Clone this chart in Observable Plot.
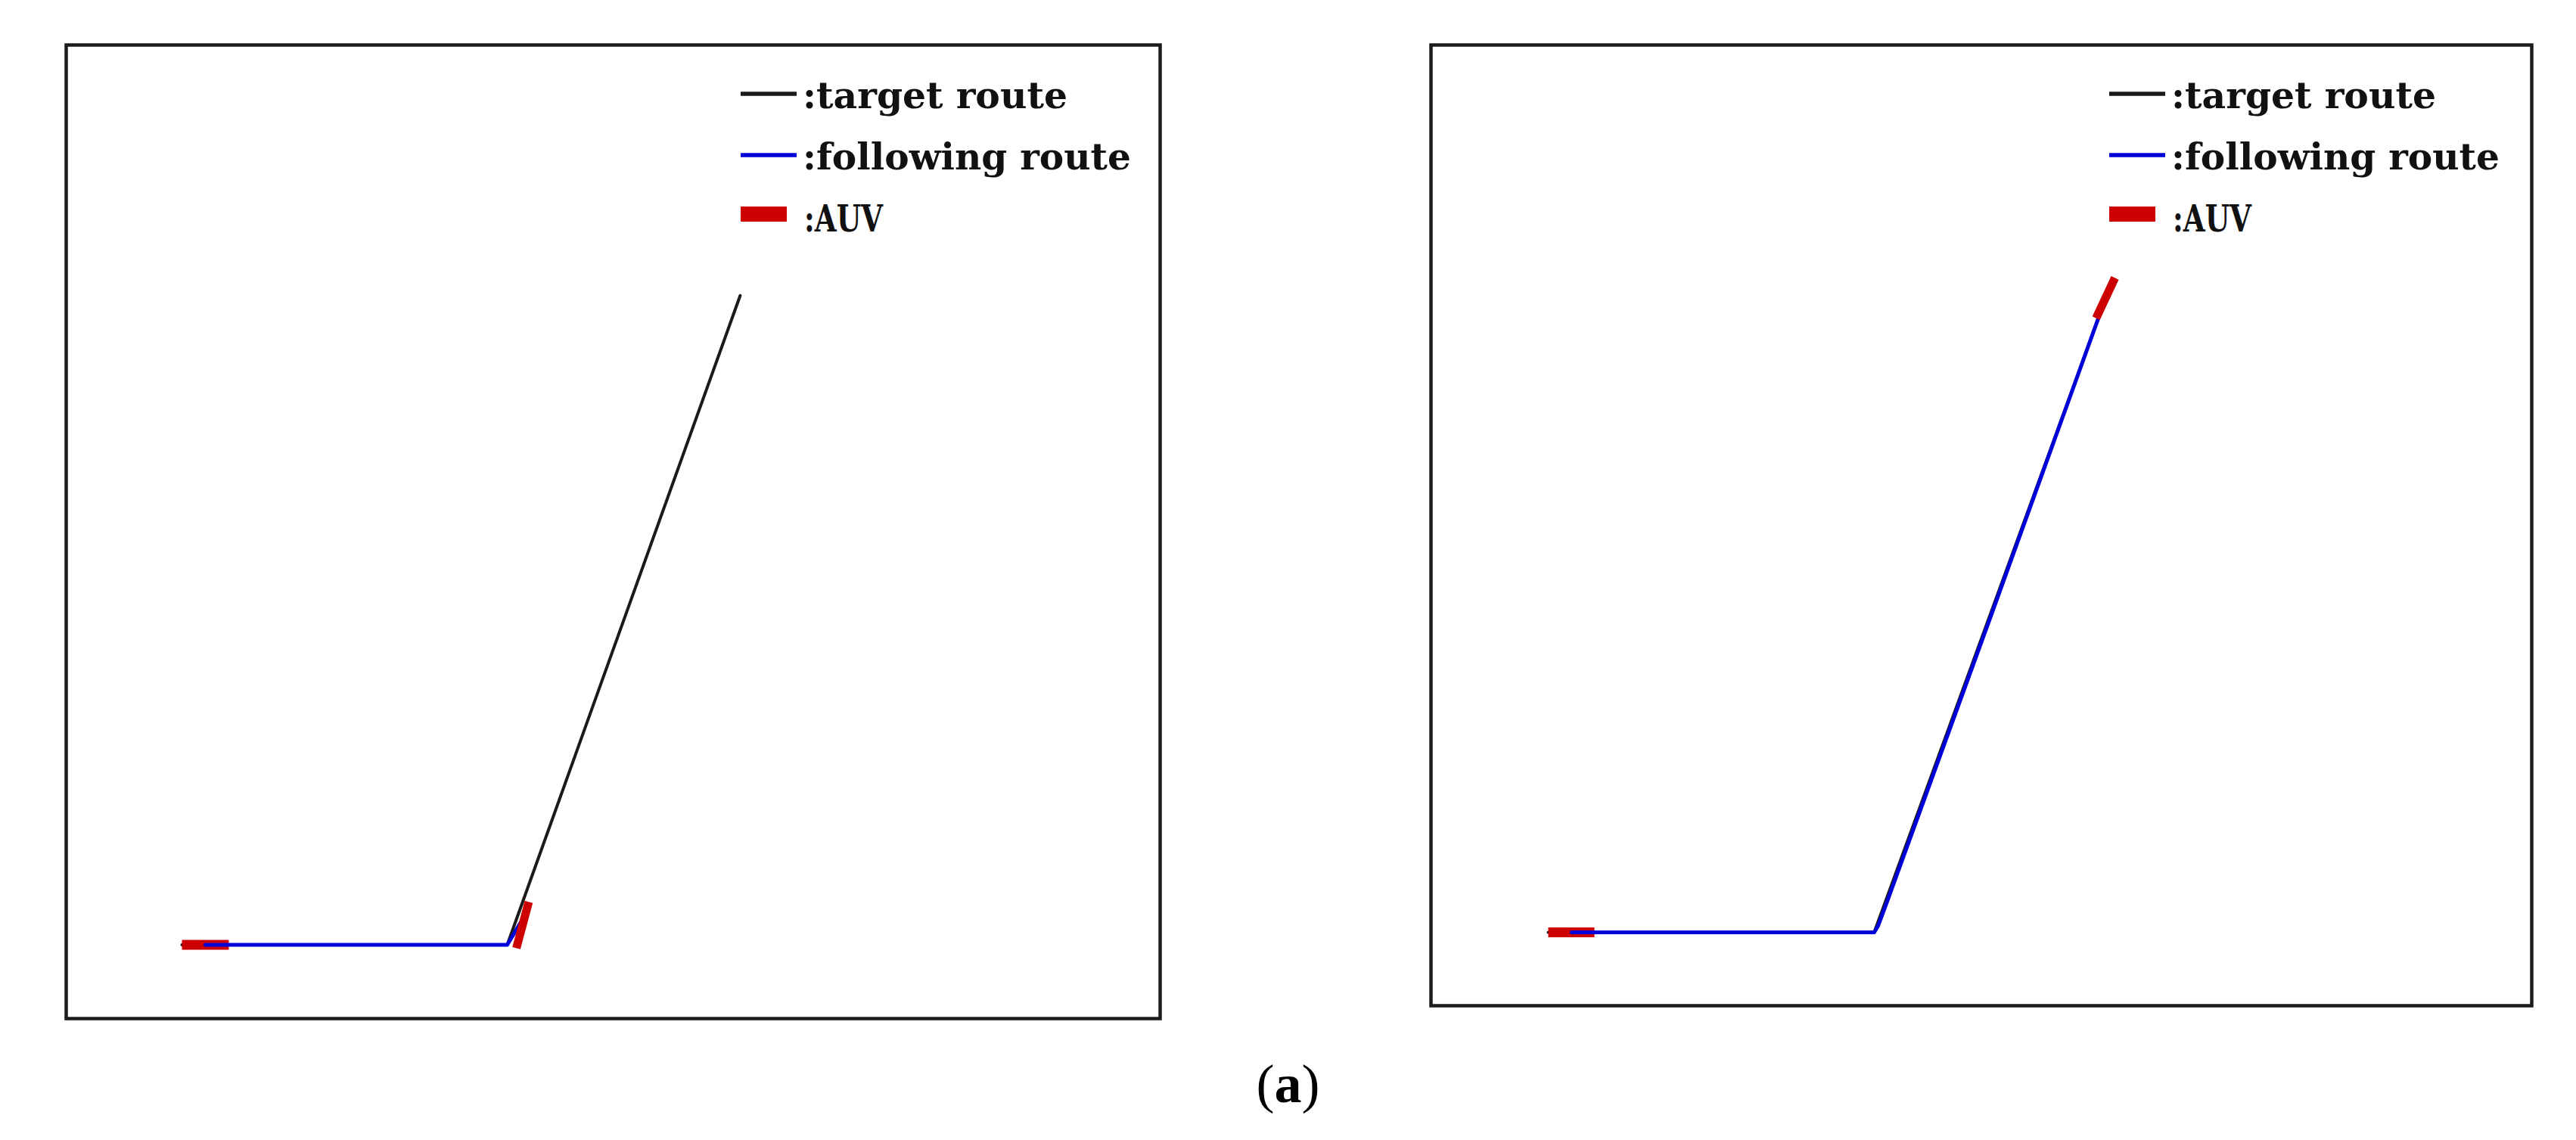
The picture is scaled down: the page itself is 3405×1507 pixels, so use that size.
<!DOCTYPE html>
<html>
<head>
<meta charset="utf-8">
<script src="https://cdn.jsdelivr.net/npm/d3@7"></script>
<script src="https://cdn.jsdelivr.net/npm/@observablehq/plot@0.6"></script>
<style>
  html, body { margin: 0; padding: 0; background: #fff; }
  body { width: 3405px; height: 1507px; position: relative; overflow: hidden; }
  .panel { position: absolute; }
  #overlay { position: absolute; left: 0; top: 0; pointer-events: none; }
  #caption { position: absolute; left: 0; width: 3405px; top: 1392px; text-align: center;
             font-family: "Liberation Serif", "Times New Roman", serif; font-size: 72px; color: #000; }
</style>
</head>
<body>
<div id="left" class="panel"></div>
<div id="right" class="panel"></div>
<svg id="overlay" width="3405" height="1507"></svg>
<div id="caption">(<b>a</b>)</div>
<script>
// ---------- data (route units) ----------
// panel (left): AUV has just reached the turning point
const targetLeftX = [0, 50.0, 85.8];
const targetLeftY = [0, 0, 99.8];
const followLeftX = [3.6, 50.0, 52.1];
const followLeftY = [0, 0, 3.5];
const auvLeftX1 = [0, 51.4];
const auvLeftY1 = [0, -0.5];
const auvLeftX2 = [7.2, 53.3];
const auvLeftY2 = [0, 6.6];

// panel (right): AUV has reached the end of the route
const targetRightX = [0, 50.1, 86.6];
const targetRightY = [0, 0, 100.0];
const followRightX = [3.6, 50.1, 50.7, 52.0, 68.35, 85.6];
const followRightY = [0, 0, 1.0, 4.5, 49.5, 97.3];
const auvRightX1 = [0, 84.2];
const auvRightY1 = [0, 94.4];
const auvRightX2 = [7.1, 87.1];
const auvRightY2 = [0, 100.6];

// legend
const legendLabels = [":target route", ":following route", ":AUV"];
const legendKinds = ["line", "line", "rect"];
const legendColors = ["#1a1a1a", "#0000d8", "#cc0000"];

// ---------- helpers ----------
const pts = (xs, ys) => xs.map((x, i) => ({x, y: ys[i]}));
const segs = (x1, y1, x2, y2) => x1.map((v, i) => ({x1: v, y1: y1[i], x2: x2[i], y2: y2[i]}));

function panel(cfg) {
  const m = 6;
  const target = pts(cfg.tx, cfg.ty);
  const follow = pts(cfg.fx, cfg.fy);
  const auv = segs(cfg.ax1, cfg.ay1, cfg.ax2, cfg.ay2);
  const chart = Plot.plot({
    width: cfg.w + 2 * m,
    height: cfg.h + 2 * m,
    margin: m,
    x: {domain: cfg.xd, axis: null},
    y: {domain: cfg.yd, axis: null},
    style: {background: "transparent", overflow: "visible"},
    marks: [
      Plot.line(target, {x: "x", y: "y", stroke: "#1a1a1a", strokeWidth: 4}),
      Plot.link(auv.slice(0, 1), {x1: "x1", y1: "y1", x2: "x2", y2: "y2",
        stroke: "#cc0000", strokeWidth: 13, strokeLinecap: "butt"}),
      Plot.line(follow, {x: "x", y: "y", stroke: "#0000d8", strokeWidth: 5}),
      Plot.link(auv.slice(1), {x1: "x1", y1: "y1", x2: "x2", y2: "y2",
        stroke: "#cc0000", strokeWidth: 11, strokeLinecap: "butt"}),
      Plot.frame({stroke: "#1c1c1c", strokeWidth: 4.5})
    ]
  });
  const host = document.getElementById(cfg.id);
  host.style.left = (cfg.left - m) + "px";
  host.style.top = (cfg.top - m) + "px";
  host.appendChild(chart);
}

const pxPerUnit = 8.6;
// left frame: 87..1533 x 59..1346 ; route start at 240, baseline at 1248.5
panel({
  id: "left", left: 87, top: 59, w: 1446, h: 1287,
  xd: [-(240 - 87) / pxPerUnit, (1533 - 240) / pxPerUnit],
  yd: [-(1346 - 1248.5) / pxPerUnit, (1248.5 - 59) / pxPerUnit],
  tx: targetLeftX, ty: targetLeftY, fx: followLeftX, fy: followLeftY,
  ax1: auvLeftX1, ay1: auvLeftY1, ax2: auvLeftX2, ay2: auvLeftY2
});
// right frame: 1891..3346 x 59..1329 ; route start at 2046, baseline at 1232
panel({
  id: "right", left: 1891, top: 59, w: 1455, h: 1270,
  xd: [-(2046 - 1891) / pxPerUnit, (3346 - 2046) / pxPerUnit],
  yd: [-(1329 - 1232) / pxPerUnit, (1232 - 59) / pxPerUnit],
  tx: targetRightX, ty: targetRightY, fx: followRightX, fy: followRightY,
  ax1: auvRightX1, ay1: auvRightY1, ax2: auvRightX2, ay2: auvRightY2
});

// ---------- legends (inside each frame, top right) ----------
const overlay = d3.select("#overlay");
const rowSampleY = [124, 205, 283];
const rowBaseY = [143, 224, 306];
const textWidths = [350, 434, 104];
[979, 2788].forEach(x0 => {
  legendLabels.forEach((lab, i) => {
    if (legendKinds[i] === "line") {
      overlay.append("line").attr("x1", x0).attr("x2", x0 + 74)
        .attr("y1", rowSampleY[i]).attr("y2", rowSampleY[i])
        .attr("stroke", legendColors[i]).attr("stroke-width", 5.5);
    } else {
      overlay.append("rect").attr("x", x0).attr("y", rowSampleY[i] - 10)
        .attr("width", 61).attr("height", 20).attr("fill", legendColors[i]);
    }
    overlay.append("text").attr("x", x0 + (i === 2 ? 84 : 82)).attr("y", rowBaseY[i])
      .attr("font-family", "'DejaVu Serif', 'Liberation Serif', serif")
      .attr("font-weight", "bold")
      .attr("font-size", 48)
      .attr("textLength", textWidths[i]).attr("lengthAdjust", "spacingAndGlyphs")
      .attr("fill", "#111").text(lab);
  });
});
</script>
</body>
</html>
